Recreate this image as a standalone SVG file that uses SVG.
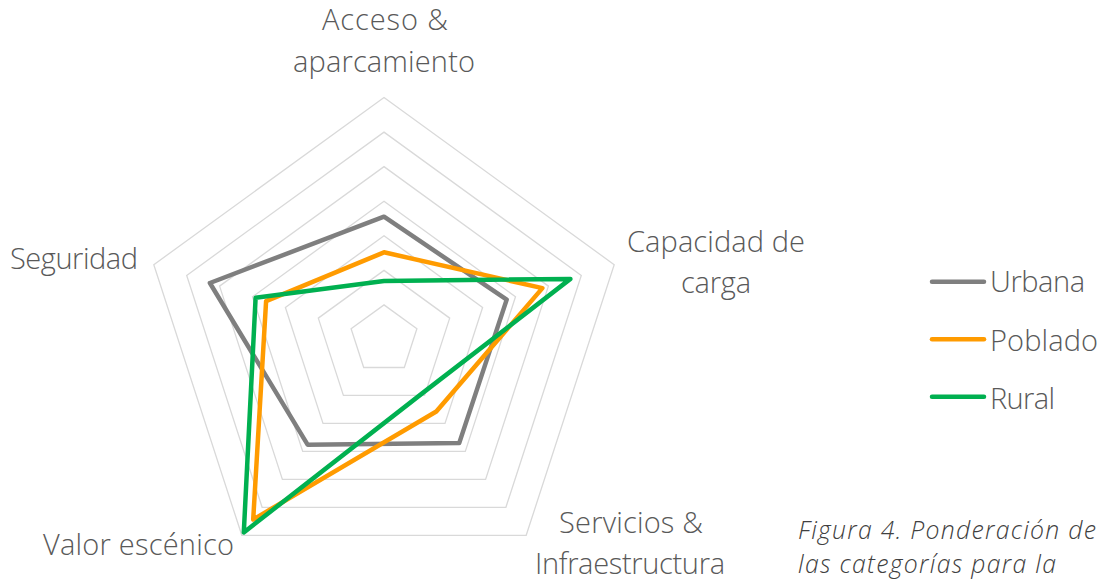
<svg xmlns="http://www.w3.org/2000/svg" width="1115" height="583" viewBox="0 0 1115 583">
  <style>
    .grid { fill: none; stroke: #d9d9d9; stroke-width: 1.3; }
    .series { fill: none; stroke-width: 4.5; stroke-linejoin: round; stroke-linecap: round; }
    .urb { stroke: #7f7f7f; }
    .pob { stroke: #ff9b00; }
    .rur { stroke: #00b050; }
    .lbl { font-family: "Open Sans", "Liberation Sans", sans-serif; font-weight: 300; font-size: 29px; fill: #595959; }
    .cap { font-family: "Open Sans", "Liberation Sans", sans-serif; font-weight: 300; font-style: italic; font-size: 24.8px; fill: #404040; }
  </style>
  <rect width="1115" height="583" fill="#ffffff"/>
  <g id="grid">
    <polygon class="grid" points="384,97.5 614.2,264.7 526.2,535.3 241.8,535.3 153.8,264.7"/>
    <polygon class="grid" points="384,132.1 581.3,275.4 505.9,507.3 262.1,507.3 186.7,275.4"/>
    <polygon class="grid" points="384,166.6 548.4,286.1 485.6,479.4 282.4,479.4 219.6,286.1"/>
    <polygon class="grid" points="384,201.2 515.5,296.8 465.3,451.4 302.7,451.4 252.5,296.8"/>
    <polygon class="grid" points="384,235.8 482.6,307.5 445,423.4 323,423.4 285.4,307.5"/>
    <polygon class="grid" points="384,270.4 449.7,318.1 424.6,395.4 343.4,395.4 318.3,318.1"/>
    <polygon class="grid" points="384,304.9 416.9,328.8 404.3,367.5 363.7,367.5 351.1,328.8"/>
  </g>
  <g id="series">
    <polygon id="urbana" class="series urb" points="384,216.7 506.7,299.6 459.2,443.1 307.6,444.7 209.9,283"/>
    <polygon id="poblado" class="series pob" points="384,252.3 542.4,288.1 436.3,411.5 253.2,519.5 266.1,301.2"/>
    <polygon id="rural" class="series rur" points="384,281 570.4,278.9 422.8,392.9 243.8,532.4 255.6,297.8"/>
  </g>
  <g id="axis-labels">
    <g id="label-acceso">
      <text class="lbl" x="385" y="30" text-anchor="middle" textLength="126">Acceso &amp;</text>
      <text class="lbl" x="384" y="72" text-anchor="middle" textLength="182">aparcamiento</text>
    </g>
    <g id="label-capacidad">
      <text class="lbl" x="716" y="252" text-anchor="middle" textLength="178">Capacidad de</text>
      <text class="lbl" x="716" y="293" text-anchor="middle" textLength="70">carga</text>
    </g>
    <g id="label-servicios">
      <text class="lbl" x="631" y="533" text-anchor="middle" textLength="144">Servicios &amp;</text>
      <text class="lbl" x="630" y="574" text-anchor="middle" textLength="190">Infraestructura</text>
    </g>
    <g id="label-valor">
      <text class="lbl" x="43" y="555" textLength="191">Valor escénico</text>
    </g>
    <g id="label-seguridad">
      <text class="lbl" x="10" y="269" textLength="128">Seguridad</text>
    </g>
  </g>
  <g id="legend">
    <g id="legend-urbana">
      <line class="series urb" x1="932" y1="281.7" x2="984" y2="281.7"/>
      <text class="lbl" x="990" y="292" textLength="95">Urbana</text>
    </g>
    <g id="legend-poblado">
      <line class="series pob" x1="932" y1="339.3" x2="984" y2="339.3"/>
      <text class="lbl" x="990" y="351" textLength="108">Poblado</text>
    </g>
    <g id="legend-rural">
      <line class="series rur" x1="932" y1="396.7" x2="984" y2="396.7"/>
      <text class="lbl" x="990" y="409" textLength="65">Rural</text>
    </g>
  </g>
  <g id="caption">
    <text class="cap" x="798" y="539" textLength="298">Figura 4. Ponderación de</text>
    <text class="cap" x="798" y="573" textLength="258">las categorías para la</text>
  </g>
</svg>
